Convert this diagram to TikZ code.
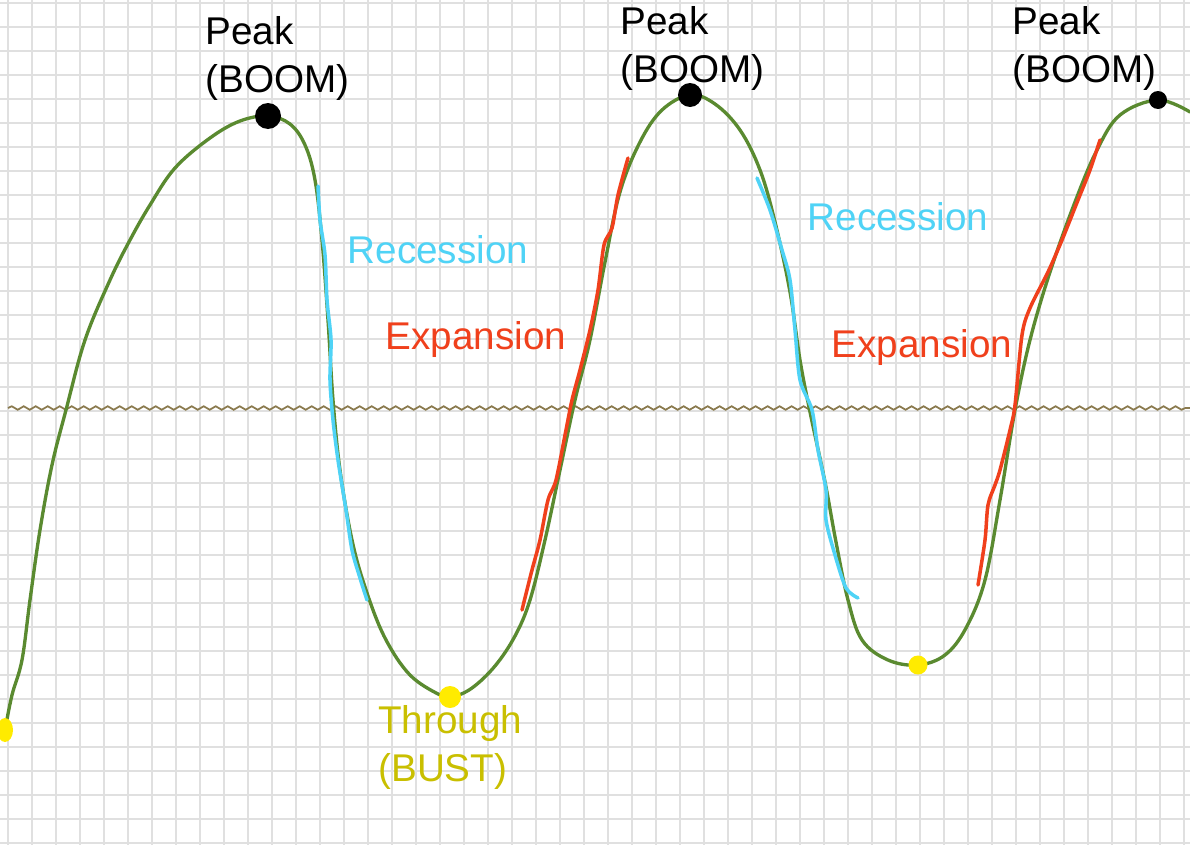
\documentclass[tikz,border=0pt]{standalone}
\usepackage{fontspec}
\setmainfont{Liberation Sans}
\usetikzlibrary{decorations.pathmorphing}
\definecolor{GridGray}{HTML}{E0E0E0}
\definecolor{CycleGreen}{HTML}{5A8A30}
\definecolor{TrendBrown}{HTML}{8A7A4E}
\definecolor{RecBlue}{HTML}{4FD3F6}
\definecolor{ExpRed}{HTML}{F0401C}
\definecolor{BustYellow}{HTML}{C9BF00}
\definecolor{DotYellow}{HTML}{FFEB00}
\tikzset{
  gridline/.style={GridGray,line width=0.95pt},
  cycle/.style={CycleGreen,line width=1.9pt,line cap=round,line join=round},
  trend/.style={TrendBrown,line width=1pt,decorate,
    decoration={snake,segment length=0.24cm,amplitude=0.035cm}},
  recline/.style={RecBlue,line width=2pt,line cap=round,line join=round},
  expline/.style={ExpRed,line width=2pt,line cap=round,line join=round},
  lbl/.style={font=\fontsize{22}{27.5}\selectfont,inner sep=0pt,align=left},
}

\begin{document}
\begin{tikzpicture}[x=0.02cm,y=-0.02cm]
  \useasboundingbox (0,0) rectangle (1190,845);
  \fill[white] (0,0) rectangle (1190,845);
  % graph paper
  \foreach \x in {8,32,...,1190}{\draw[gridline] (\x,0)--(\x,845);}
  \foreach \y in {2.7,26.7,...,845}{\draw[gridline] (0,\y)--(1190,\y);}
  % trend line
  \draw[trend] (8,408)--(1190,408);
  % business cycle
  \draw[cycle] plot[smooth,tension=0.6] coordinates {
    (5,730) (12,695) (22,660) (30,600) (40,530) (52,465) (66,410) (85,340)
    (110,280) (130,240) (150,205) (175,168) (210,138) (240,121) (268,116)
    (290,124) (305,145) (315,180) (322,240) (328,320) (333,400) (340,470)
    (352,540) (366,590) (385,638) (410,675) (440,695) (452,697) (472,688)
    (495,666) (515,636) (530,600) (545,540) (560,470) (575,400) (590,340)
    (605,262) (620,192) (640,142) (662,110) (690,95) (715,104) (740,130)
    (760,170) (775,222) (790,292) (800,360) (810,412) (825,482) (836,542)
    (848,600) (862,640) (888,660) (918,665) (945,655) (966,628) (985,580)
    (1000,500) (1015,410) (1030,340) (1050,272) (1075,202) (1097,150)
    (1120,115) (1158,100) (1190,112)};
  % recession strokes
  \draw[recline] plot[smooth,tension=0.5] coordinates {
    (318,186) (320,220) (325,255) (327,300) (331,340) (330,380) (333,420)
    (338,460) (346,510) (352,550) (360,578) (367,600)};
  \draw[recline] plot[smooth,tension=0.5] coordinates {
    (757,178) (770,210) (782,250) (790,280) (795,330) (800,380) (812,410)
    (818,450) (826,490) (826,520) (835,555) (846,588) (858,598)};
  % expansion strokes
  \draw[expline] plot[smooth,tension=0.5] coordinates {
    (522,610) (532,570) (540,540) (548,500) (556,480) (566,430) (572,400)
    (580,370) (590,330) (598,290) (604,245) (612,228) (618,195) (628,158)};
  \draw[expline] plot[smooth,tension=0.5] coordinates {
    (978,585) (985,540) (988,505) (995,485) (1000,470) (1010,430) (1015,405)
    (1022,335) (1030,308) (1048,272) (1062,240) (1078,200) (1090,170)
    (1100,140)};
  % turning points
  \fill[black] (268,116) circle (13);
  \fill[black] (690,95) circle (12);
  \fill[black] (1158,100) circle (9);
  \fill[DotYellow] (5,730) ellipse (8 and 12);
  \fill[DotYellow] (450,697) circle (11);
  \fill[DotYellow] (918,665) circle (9.5);
  % labels
  \node[lbl,anchor=north west] (peakA) at (205,16) {Peak\\(BOOM)};
  \node[lbl,anchor=north west] (peakB) at (620,6) {Peak\\(BOOM)};
  \node[lbl,anchor=north west] (peakC) at (1012,6) {Peak\\(BOOM)};
  \node[lbl,anchor=north west,BustYellow] (bust) at (378,705) {Through\\(BUST)};
  \node[lbl,RecBlue] (recA) at (438,250) {Recession};
  \node[lbl,RecBlue] (recB) at (898,217) {Recession};
  \node[lbl,ExpRed] (expA) at (476,340) {Expansion};
  \node[lbl,ExpRed] (expB) at (922,348) {Expansion};
\end{tikzpicture}
\end{document}
